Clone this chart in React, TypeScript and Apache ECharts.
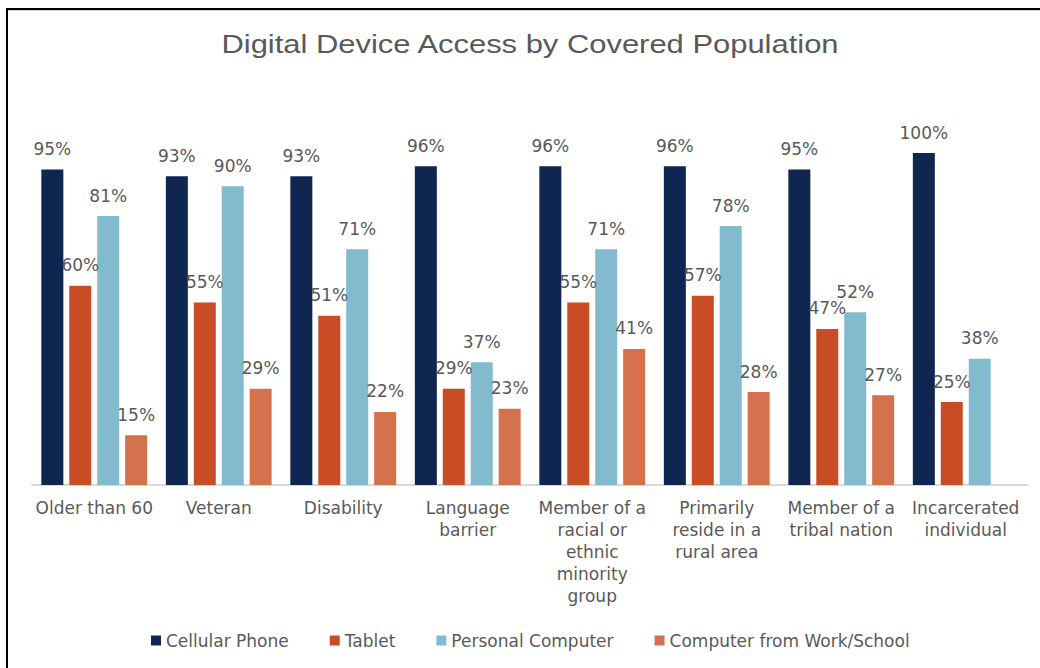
import React, { useEffect, useRef } from "react";
import * as echarts from "echarts";

const titleText = "Digital Device Access by Covered Population";
const categories = [
  "Older than 60",
  "Veteran",
  "Disability",
  "Language\nbarrier",
  "Member of a\nracial or\nethnic\nminority\ngroup",
  "Primarily\nreside in a\nrural area",
  "Member of a\ntribal nation",
  "Incarcerated\nindividual",
];
const seriesNames = ["Cellular Phone", "Tablet", "Personal Computer", "Computer from Work/School"];
const cellular = [95, 93, 93, 96, 96, 96, 95, 100];
const tablet = [60, 55, 51, 29, 55, 57, 47, 25];
const personalComputer = [81, 90, 71, 37, 71, 78, 52, 38];
const workSchool: (number | null)[] = [15, 29, 22, 23, 41, 28, 27, null];
const colors = ["#0f2651", "#c84c24", "#82bbce", "#d6714e"];

const FONT = "DejaVu Sans, Verdana, sans-serif";
const TITLE_FONT = "Liberation Sans, Arial, sans-serif";
const TXT = "#595959";

export default function App() {
  const ref = useRef<HTMLDivElement>(null);
  useEffect(() => {
    if (!ref.current) return;
    const chart = echarts.init(ref.current, null, { renderer: "svg" });
    const data = [cellular, tablet, personalComputer, workSchool];
    chart.setOption({
      animation: false,
      textStyle: { fontFamily: FONT },
      graphic: [
        {
          type: "text",
          x: 530,
          y: 44,
          scaleX: 1.19,
          style: {
            text: titleText,
            x: 0,
            y: 0,
            align: "center",
            verticalAlign: "middle",
            textAlign: "center",
            textVerticalAlign: "middle",
            font: `26px ${TITLE_FONT}`,
            fontSize: 26,
            fontFamily: TITLE_FONT,
            fill: TXT,
          },
        },
      ],
      legend: {
        data: seriesNames,
        top: 627,
        left: 146,
        icon: "rect",
        itemWidth: 10,
        itemHeight: 10,
        itemGap: 41,
        textStyle: { fontFamily: FONT, fontSize: 17, color: TXT },
      },
      grid: { left: 32, right: 12, top: 153, bottom: 183, containLabel: false },
      xAxis: {
        type: "category",
        data: categories,
        axisLine: { lineStyle: { color: "#d9d9d9", width: 2 } },
        axisTick: { show: false },
        axisLabel: {
          interval: 0,
          margin: 12,
          fontFamily: FONT,
          fontSize: 17,
          lineHeight: 22,
          color: TXT,
          verticalAlign: "top",
        },
      },
      yAxis: { type: "value", min: 0, max: 100, show: false, splitLine: { show: false } },
      series: seriesNames.map((name, i) => ({
        name,
        type: "bar",
        data: data[i],
        barWidth: 22,
        barGap: "27%",
        itemStyle: { color: colors[i] },
        label: {
          show: true,
          position: "top",
          distance: 12,
          formatter: "{c}%",
          fontFamily: FONT,
          fontSize: 17,
          color: TXT,
        },
      })),
    });
    return () => chart.dispose();
  }, []);
  return (
    <div style={{ position: "fixed", left: 0, top: 0, width: 1040, height: 668, background: "#fff" }}>
      <div ref={ref} style={{ position: "absolute", left: 0, top: 0, width: 1040, height: 668 }} />
      <div style={{ position: "absolute", left: 6, top: 8, width: 2, height: 660, background: "#000" }} />
      <div style={{ position: "absolute", left: 6, top: 8, width: 1034, height: 2, background: "#000" }} />
      <div style={{ position: "absolute", left: 8, top: 10, width: 1032, height: 1, background: "#d9d9d9" }} />
    </div>
  );
}
